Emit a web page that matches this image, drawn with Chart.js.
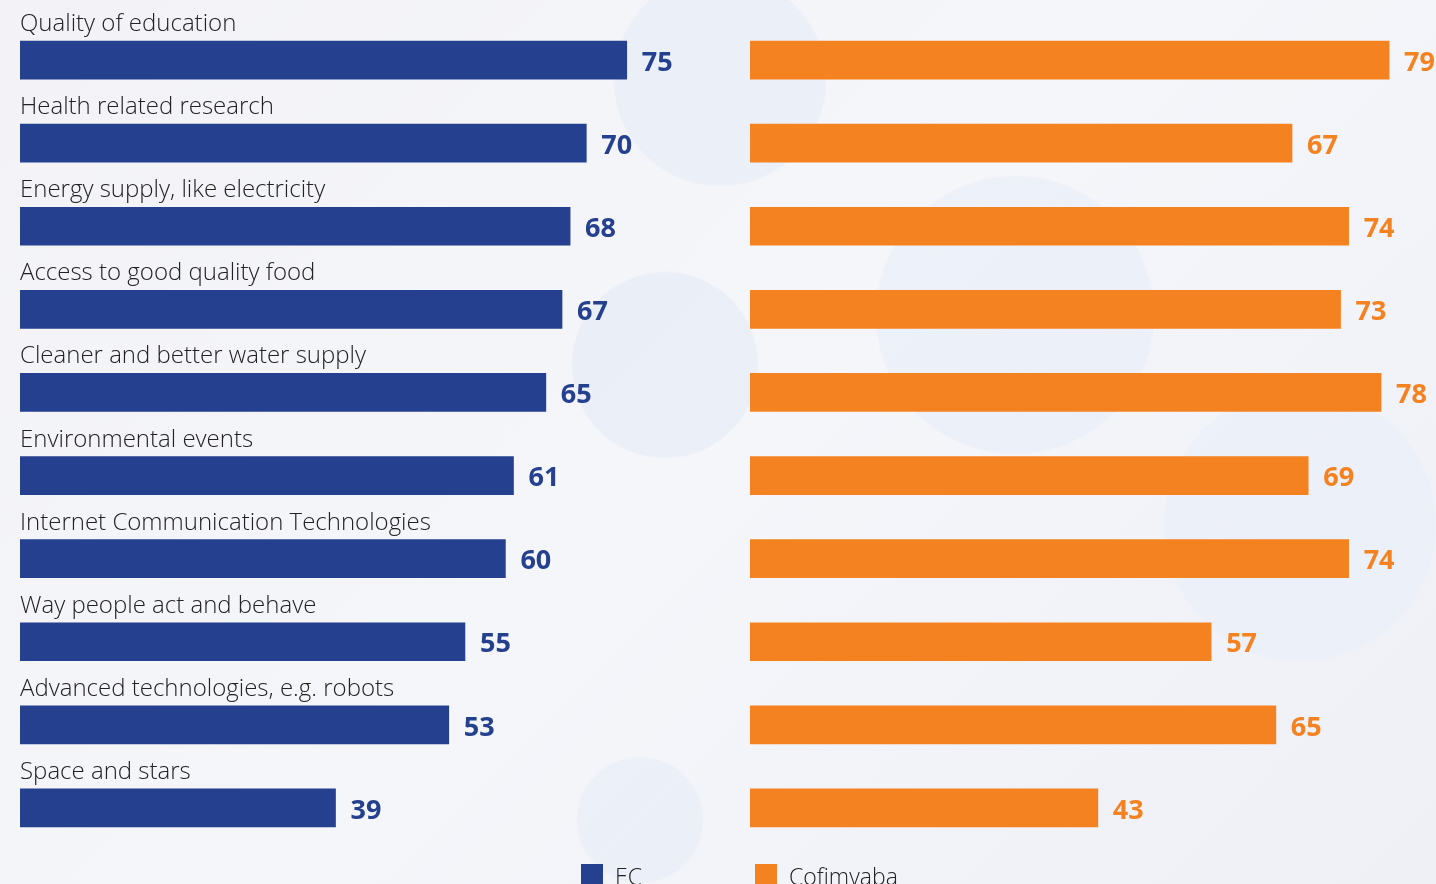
<!DOCTYPE html>
<html>
<head>
<meta charset="utf-8">
<script src="https://cdn.jsdelivr.net/npm/chart.js@4"></script>
<style>
  html, body { margin: 0; padding: 0; }
  body {
    width: 1436px; height: 884px; overflow: hidden; position: relative;
    font-family: "Open Sans", "Noto Sans", sans-serif;
    background:
      radial-gradient(circle at 720px 80px, rgba(228,235,246,0.55) 0, rgba(228,235,246,0.55) 105px, rgba(0,0,0,0) 107px),
      radial-gradient(circle at 665px 365px, rgba(225,233,246,0.55) 0, rgba(225,233,246,0.55) 92px, rgba(0,0,0,0) 94px),
      radial-gradient(circle at 1015px 315px, rgba(230,236,247,0.55) 0, rgba(230,236,247,0.55) 138px, rgba(0,0,0,0) 140px),
      radial-gradient(circle at 1300px 525px, rgba(232,238,248,0.55) 0, rgba(232,238,248,0.55) 135px, rgba(0,0,0,0) 137px),
      radial-gradient(circle at 640px 820px, rgba(228,234,245,0.5) 0, rgba(228,234,245,0.5) 62px, rgba(0,0,0,0) 64px),
      linear-gradient(135deg, #f2f2f7 0%, #f5f6fa 50%, #eef0f6 100%);
  }
  #left  { position: absolute; left: 20px;  top: 0; }
  #right { position: absolute; left: 750px; top: 0; }
  .legend { position: absolute; top: 864px; font-size: 23px; font-weight: 300; color: #222; line-height: 24px; }
  .legend span.box { position: absolute; left: 0; top: 0; width: 22px; height: 22px; }
  .legend span.txt { position: absolute; left: 34px; top: 0; white-space: nowrap; }
</style>
</head>
<body>
<canvas id="left" width="720" height="884"></canvas>
<canvas id="right" width="686" height="884"></canvas>
<div class="legend" style="left:581px"><span class="box" style="background:#24408e"></span><span class="txt">EC</span></div>
<div class="legend" style="left:755px"><span class="box" style="background:#f58220"></span><span class="txt">Cofimvaba</span></div>

<script>
const categories = [
  "Quality of education",
  "Health related research",
  "Energy supply, like electricity",
  "Access to good quality food",
  "Cleaner and better water supply",
  "Environmental events",
  "Internet Communication Technologies",
  "Way people act and behave",
  "Advanced technologies, e.g. robots",
  "Space and stars"
];
const ecValues = [75, 70, 68, 67, 65, 61, 60, 55, 53, 39];
const cofimvabaValues = [79, 67, 74, 73, 78, 69, 74, 57, 65, 43];

const blue = "#24408e";
const orange = "#f58220";
const pxPerUnit = 8.09;

// value labels after the bar end, category labels above the bars
const barLabels = {
  id: "barLabels",
  afterDatasetsDraw(chart, args, opts) {
    const ctx = chart.ctx;
    const meta = chart.getDatasetMeta(0);
    ctx.save();
    meta.data.forEach((bar, i) => {
      ctx.font = "bold 27px 'Open Sans', sans-serif";
      ctx.fillStyle = opts.color;
      ctx.textAlign = "left";
      ctx.textBaseline = "middle";
      ctx.fillText(chart.data.datasets[0].data[i], bar.x + 15, bar.y + 3);
      if (opts.showCategories) {
        ctx.font = "300 24px 'Open Sans', sans-serif";
        ctx.fillStyle = "#222";
        ctx.textBaseline = "alphabetic";
        ctx.fillText(chart.data.labels[i], chart.chartArea.left, bar.y - 29);
      }
    });
    ctx.restore();
  }
};

function makeChart(id, values, color, showCategories) {
  const canvas = document.getElementById(id);
  return new Chart(canvas, {
    type: "bar",
    data: {
      labels: categories,
      datasets: [{ data: values, backgroundColor: color, barThickness: 38, borderWidth: 0 }]
    },
    options: {
      indexAxis: "y",
      responsive: false,
      animation: false,
      layout: { padding: { left: 0, right: 0, top: 18.5, bottom: 34.5 } },
      scales: {
        x: { display: false, min: 0, max: canvas.width / pxPerUnit },
        y: { display: false }
      },
      plugins: {
        legend: { display: false },
        tooltip: { enabled: false },
        barLabels: { color: color, showCategories: showCategories }
      }
    },
    plugins: [barLabels]
  });
}

makeChart("left", ecValues, blue, true);
makeChart("right", cofimvabaValues, orange, false);
</script>
</body>
</html>
